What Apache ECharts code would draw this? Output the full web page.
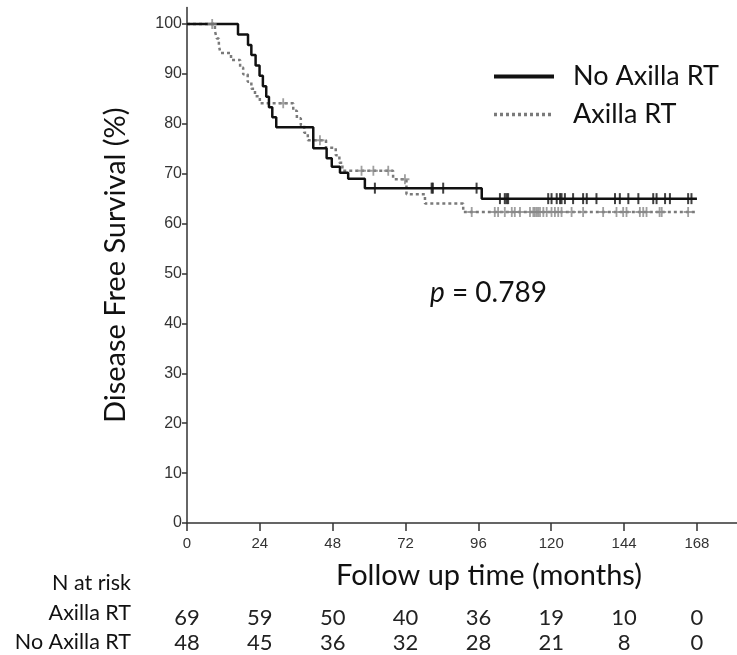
<!DOCTYPE html>
<html>
<head>
<meta charset="utf-8">
<script src="https://cdn.jsdelivr.net/npm/echarts@6/dist/echarts.min.js"></script>
<style>
  html, body { margin: 0; padding: 0; background: #fff; }
  #chart { width: 737px; height: 655px; }
</style>
</head>
<body>
<div id="chart"></div>
<script>
// follow-up months on the x axis
const monthTicks = [0, 24, 48, 72, 96, 120, 144, 168]
const pctTicks = [0, 10, 20, 30, 40, 50, 60, 70, 80, 90, 100]

// numbers at risk under each tick
const axillaRisk = [69, 59, 50, 40, 36, 19, 10, 0]
const noAxillaRisk = [48, 45, 36, 32, 28, 21, 8, 0]

// No Axilla RT - step times (months) and survival (%)
const noTimes = [0, 16.8, 20.1, 21.2, 22.6, 23.9, 25.0, 26.1, 27.0, 28.1, 29.4, 41.6, 46.0, 47.7, 50.4, 53.1, 58.6, 97.1]
const noSurv = [100, 97.9, 95.8, 93.8, 91.7, 89.6, 87.5, 85.4, 83.3, 81.3, 79.3, 75.1, 73.1, 71.4, 70.2, 69.0, 67.1, 65.0]
const noCensor = [61.9, 80.6, 81.0, 84.4, 95.4, 103.1, 104.7, 105.3, 105.8, 119.0, 120.1, 121.8, 122.9, 123.4, 124.5,
  127.2, 130.5, 131.7, 134.9, 141.0, 142.6, 145.4, 148.7, 153.6, 154.7, 157.5, 159.1, 165.1, 166.2]

// Axilla RT
const axTimes = [0, 9.2, 9.8, 10.5, 11.0, 14.5, 17.5, 18.5, 20.0, 21.2, 22.4, 24.0, 35.0, 36.2, 37.5, 38.6, 39.8, 45.8, 49.0, 50.2, 51.2, 67.9, 72.3, 78.4, 91.0]
const axSurv = [100, 98.6, 97.1, 95.7, 94.2, 92.8, 91.3, 89.9, 88.4, 87.0, 85.5, 84.1, 82.6, 81.1, 79.7, 78.2, 76.7, 75.2, 73.7, 72.2, 70.6, 68.9, 65.9, 64.0, 62.3]
const axCensor = [8.3, 31.7, 43.8, 57.5, 61.4, 66.3, 71.8, 93.8, 101.4, 102.5, 104.7, 107.0, 108.0, 109.7, 113.0, 114.1,
  114.6, 115.2, 115.7, 116.3, 117.4, 118.5, 120.1, 121.2, 122.3, 123.4, 126.7, 130.5, 137.1, 141.5, 143.7, 144.8,
  149.2, 150.3, 151.4, 155.7, 156.4, 165.1]

const endMonth = 168

function curve(times, surv) {
  const pts = times.map((t, i) => [t, surv[i]])
  pts.push([endMonth, surv[surv.length - 1]])
  return pts
}
// level of the step curve at time t (censor marks sit on the curve)
function levelAt(times, surv, t) {
  let s = surv[0]
  for (let i = 0; i < times.length; i++) {
    if (times[i] <= t) s = surv[i]
  }
  return s
}

const font = 'Lato'
const plus = 'path://M3.6,0H5.4V3.6H9V5.4H5.4V9H3.6V5.4H0V3.6H3.6Z'

const chart = echarts.init(document.getElementById('chart'))
chart.setOption({
  animation: false,
  backgroundColor: '#fff',
  grid: { left: 187, right: 0, top: 7.5, bottom: 132 },
  legend: {
    data: [
      { name: 'No Axilla RT', itemStyle: { opacity: 0 }, lineStyle: { width: 4 } },
      { name: 'Axilla RT', itemStyle: { opacity: 0 }, lineStyle: { width: 3.5 } }
    ],
    orient: 'vertical',
    left: 487,
    top: 58,
    itemWidth: 60,
    itemHeight: 14,
    itemGap: 11,
    textStyle: { fontFamily: font, fontSize: 27, color: '#111', padding: [0, 0, 0, 14] }
  },
  xAxis: [
    {
      type: 'value', min: 0, max: 181.2, interval: 24,
      axisLine: { onZero: false, lineStyle: { color: '#333', width: 1.5 } },
      axisTick: { customValues: monthTicks, length: 8, lineStyle: { color: '#333', width: 1.5 } },
      axisLabel: { customValues: monthTicks, margin: 13, fontFamily: 'Liberation Sans', fontSize: 15, color: '#333' },
      splitLine: { show: false }
    },
    {
      type: 'value', min: 0, max: 181.2, position: 'bottom', offset: 84,
      axisLine: { show: false }, axisTick: { show: false }, splitLine: { show: false },
      axisLabel: {
        customValues: monthTicks, margin: 0, fontFamily: font, fontSize: 22, color: '#222',
        formatter: v => String(axillaRisk[Math.round(v / 24)])
      }
    },
    {
      type: 'value', min: 0, max: 181.2, position: 'bottom', offset: 109,
      axisLine: { show: false }, axisTick: { show: false }, splitLine: { show: false },
      axisLabel: {
        customValues: monthTicks, margin: 0, fontFamily: font, fontSize: 22, color: '#222',
        formatter: v => String(noAxillaRisk[Math.round(v / 24)])
      }
    }
  ],
  yAxis: {
    type: 'value', min: 0, max: 103.3, interval: 10,
    name: 'Disease Free Survival (%)',
    nameLocation: 'middle', nameRotate: 90, nameGap: 57,
    nameTextStyle: { fontFamily: font, fontSize: 29, color: '#111' },
    axisLine: { show: true, onZero: false, lineStyle: { color: '#333', width: 1.5 } },
    axisTick: { show: true, customValues: pctTicks, length: 5, lineStyle: { color: '#333', width: 1.5 } },
    axisLabel: { customValues: pctTicks, margin: 5, fontFamily: 'Liberation Sans', fontSize: 16, color: '#333' },
    splitLine: { show: false }
  },
  graphic: [
    { type: 'text', left: 336, top: 561, style: { text: 'Follow up time (months)', fontFamily: font, fontSize: 29, fill: '#111' } },
    { type: 'text', right: 737 - 131, top: 572, style: { text: 'N at risk', fontFamily: font, fontSize: 21.5, fill: '#111' } },
    { type: 'text', right: 737 - 131, top: 602, style: { text: 'Axilla RT', fontFamily: font, fontSize: 21.5, fill: '#111' } },
    { type: 'text', right: 737 - 131, top: 631, style: { text: 'No Axilla RT', fontFamily: font, fontSize: 21.5, fill: '#111' } },
    {
      type: 'text', left: 430, top: 279,
      style: {
        text: '{i|p} = 0.789',
        fontFamily: font, fontSize: 28, fill: '#111',
        rich: { i: { fontFamily: font, fontSize: 28, fontStyle: 'italic', fill: '#111' } }
      }
    }
  ],
  series: [
    {
      name: 'Axilla RT', type: 'line', step: 'end', symbol: 'none',
      data: curve(axTimes, axSurv),
      lineStyle: { color: '#7a7a7a', width: 2.5, type: [3, 3] },
      itemStyle: { color: '#7a7a7a' },
      z: 2
    },
    {
      name: 'No Axilla RT', type: 'line', step: 'end', symbol: 'none',
      data: curve(noTimes, noSurv),
      lineStyle: { color: '#111', width: 2.5 },
      itemStyle: { color: '#111' },
      z: 3
    },
    {
      type: 'scatter', symbol: plus, symbolSize: [9, 10],
      data: axCensor.map(t => [t, levelAt(axTimes, axSurv, t)]),
      itemStyle: { color: '#888' },
      z: 4
    },
    {
      type: 'scatter', symbol: 'rect', symbolSize: [2, 11],
      data: noCensor.map(t => [t, levelAt(noTimes, noSurv, t)]),
      itemStyle: { color: '#111' },
      z: 5
    }
  ]
})
</script>
</body>
</html>
